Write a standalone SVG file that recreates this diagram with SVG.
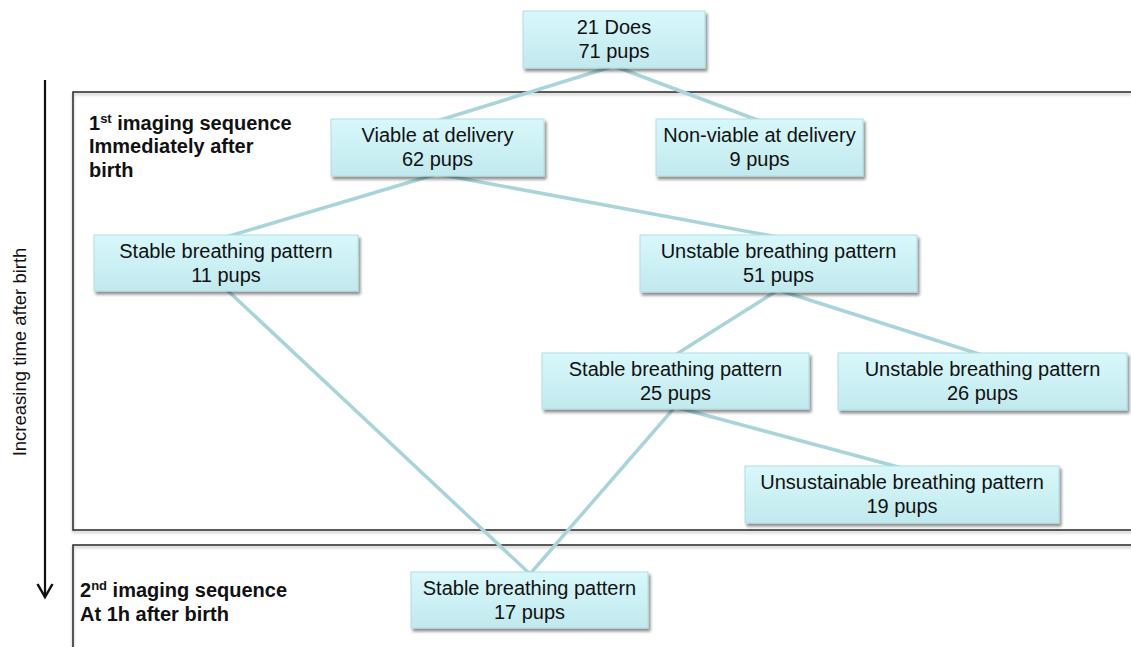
<svg xmlns="http://www.w3.org/2000/svg" width="1131" height="647" viewBox="0 0 1131 647">
<defs>
<linearGradient id="boxg" x1="0" y1="0" x2="0" y2="1">
<stop offset="0" stop-color="#d8f8fb"/>
<stop offset="1" stop-color="#c1e9ee"/>
</linearGradient>
<filter id="sh" x="-10%" y="-20%" width="125%" height="150%">
<feGaussianBlur in="SourceAlpha" stdDeviation="1.5"/>
<feOffset dx="1.5" dy="2.5" result="b"/>
<feComponentTransfer><feFuncA type="linear" slope="0.45"/></feComponentTransfer>
<feMerge><feMergeNode/><feMergeNode in="SourceGraphic"/></feMerge>
</filter>
<filter id="psh" x="-5%" y="-5%" width="110%" height="110%">
<feGaussianBlur in="SourceAlpha" stdDeviation="1.5"/>
<feOffset dx="0" dy="2"/>
<feComponentTransfer><feFuncA type="linear" slope="0.3"/></feComponentTransfer>
<feMerge><feMergeNode/><feMergeNode in="SourceGraphic"/></feMerge>
</filter>
</defs>
<style>
.box{fill:url(#boxg);stroke:#b0dde2;stroke-width:1;filter:url(#sh)}
.t{font-family:"Liberation Sans",Arial,sans-serif;font-size:20px;fill:#111;text-anchor:middle}
.lbl{font-family:"Liberation Sans",Arial,sans-serif;font-size:20px;font-weight:bold;fill:#111}
.sup{font-size:13px}
.panel{fill:none;stroke:#2a2a2a;stroke-width:1.5;filter:url(#psh)}
.con{stroke:#a9d5da;stroke-width:3.5;fill:none;stroke-linecap:round}
</style>
<rect width="1131" height="647" fill="#ffffff"/>

<g id="panels">
<rect class="panel" x="73" y="92" width="1080" height="438"/>
<rect class="panel" x="73" y="545" width="1080" height="130"/>
</g>

<g id="time-axis">
<line x1="45" y1="80" x2="45" y2="596" stroke="#111" stroke-width="2.2"/>
<polyline points="37.5,584 45,597 52.5,584" fill="none" stroke="#111" stroke-width="2.5" stroke-linejoin="miter"/>
<text x="0" y="0" transform="translate(26,352) rotate(-90)" font-family="'Liberation Sans',Arial,sans-serif" font-size="18.5" fill="#111" text-anchor="middle">Increasing time after birth</text>
</g>

<g id="panel-labels">
<text class="lbl" x="89" y="130">1<tspan class="sup" dy="-7">st</tspan><tspan dy="7"> imaging sequence</tspan></text>
<text class="lbl" x="89" y="153">Immediately after</text>
<text class="lbl" x="89" y="177">birth</text>
<text class="lbl" x="80" y="597">2<tspan class="sup" dy="-7">nd</tspan><tspan dy="7"> imaging sequence</tspan></text>
<text class="lbl" x="80" y="621">At 1h after birth</text>
</g>

<g id="connectors">
<line class="con" x1="614" y1="66" x2="437" y2="121"/>
<line class="con" x1="614" y1="66" x2="760" y2="121"/>
<line class="con" x1="437" y1="174" x2="226" y2="237"/>
<line class="con" x1="437" y1="174" x2="778" y2="237"/>
<line class="con" x1="226" y1="289" x2="530" y2="574"/>
<line class="con" x1="778" y1="290" x2="675" y2="355"/>
<line class="con" x1="778" y1="290" x2="982" y2="355"/>
<line class="con" x1="675" y1="407" x2="902" y2="468"/>
<line class="con" x1="675" y1="407" x2="530" y2="574"/>
</g>

<g id="n-does">
<rect class="box" x="523" y="11" width="182" height="57"/>
<text class="t" x="614" y="34">21 Does</text>
<text class="t" x="614" y="58">71 pups</text>
</g>
<g id="n-viable">
<rect class="box" x="331" y="119" width="213" height="57"/>
<text class="t" x="437.5" y="142">Viable at delivery</text>
<text class="t" x="437.5" y="166">62 pups</text>
</g>
<g id="n-nonviable">
<rect class="box" x="656" y="119" width="207" height="57"/>
<text class="t" x="759.5" y="142">Non-viable at delivery</text>
<text class="t" x="759.5" y="166">9 pups</text>
</g>
<g id="n-stable11">
<rect class="box" x="94" y="235" width="264" height="56"/>
<text class="t" x="226" y="258">Stable breathing pattern</text>
<text class="t" x="226" y="282">11 pups</text>
</g>
<g id="n-unstable51">
<rect class="box" x="640" y="235" width="277" height="57"/>
<text class="t" x="778.5" y="258">Unstable breathing pattern</text>
<text class="t" x="778.5" y="282">51 pups</text>
</g>
<g id="n-stable25">
<rect class="box" x="542" y="353" width="267" height="56"/>
<text class="t" x="675.5" y="376">Stable breathing pattern</text>
<text class="t" x="675.5" y="400">25 pups</text>
</g>
<g id="n-unstable26">
<rect class="box" x="838" y="353" width="289" height="57"/>
<text class="t" x="982.5" y="376">Unstable breathing pattern</text>
<text class="t" x="982.5" y="400">26 pups</text>
</g>
<g id="n-unsustainable19">
<rect class="box" x="745" y="466" width="314" height="57"/>
<text class="t" x="902" y="489">Unsustainable breathing pattern</text>
<text class="t" x="902" y="513">19 pups</text>
</g>
<g id="n-stable17">
<rect class="box" x="411" y="572" width="237" height="56"/>
<text class="t" x="529.5" y="595">Stable breathing pattern</text>
<text class="t" x="529.5" y="619">17 pups</text>
</g>
</svg>
